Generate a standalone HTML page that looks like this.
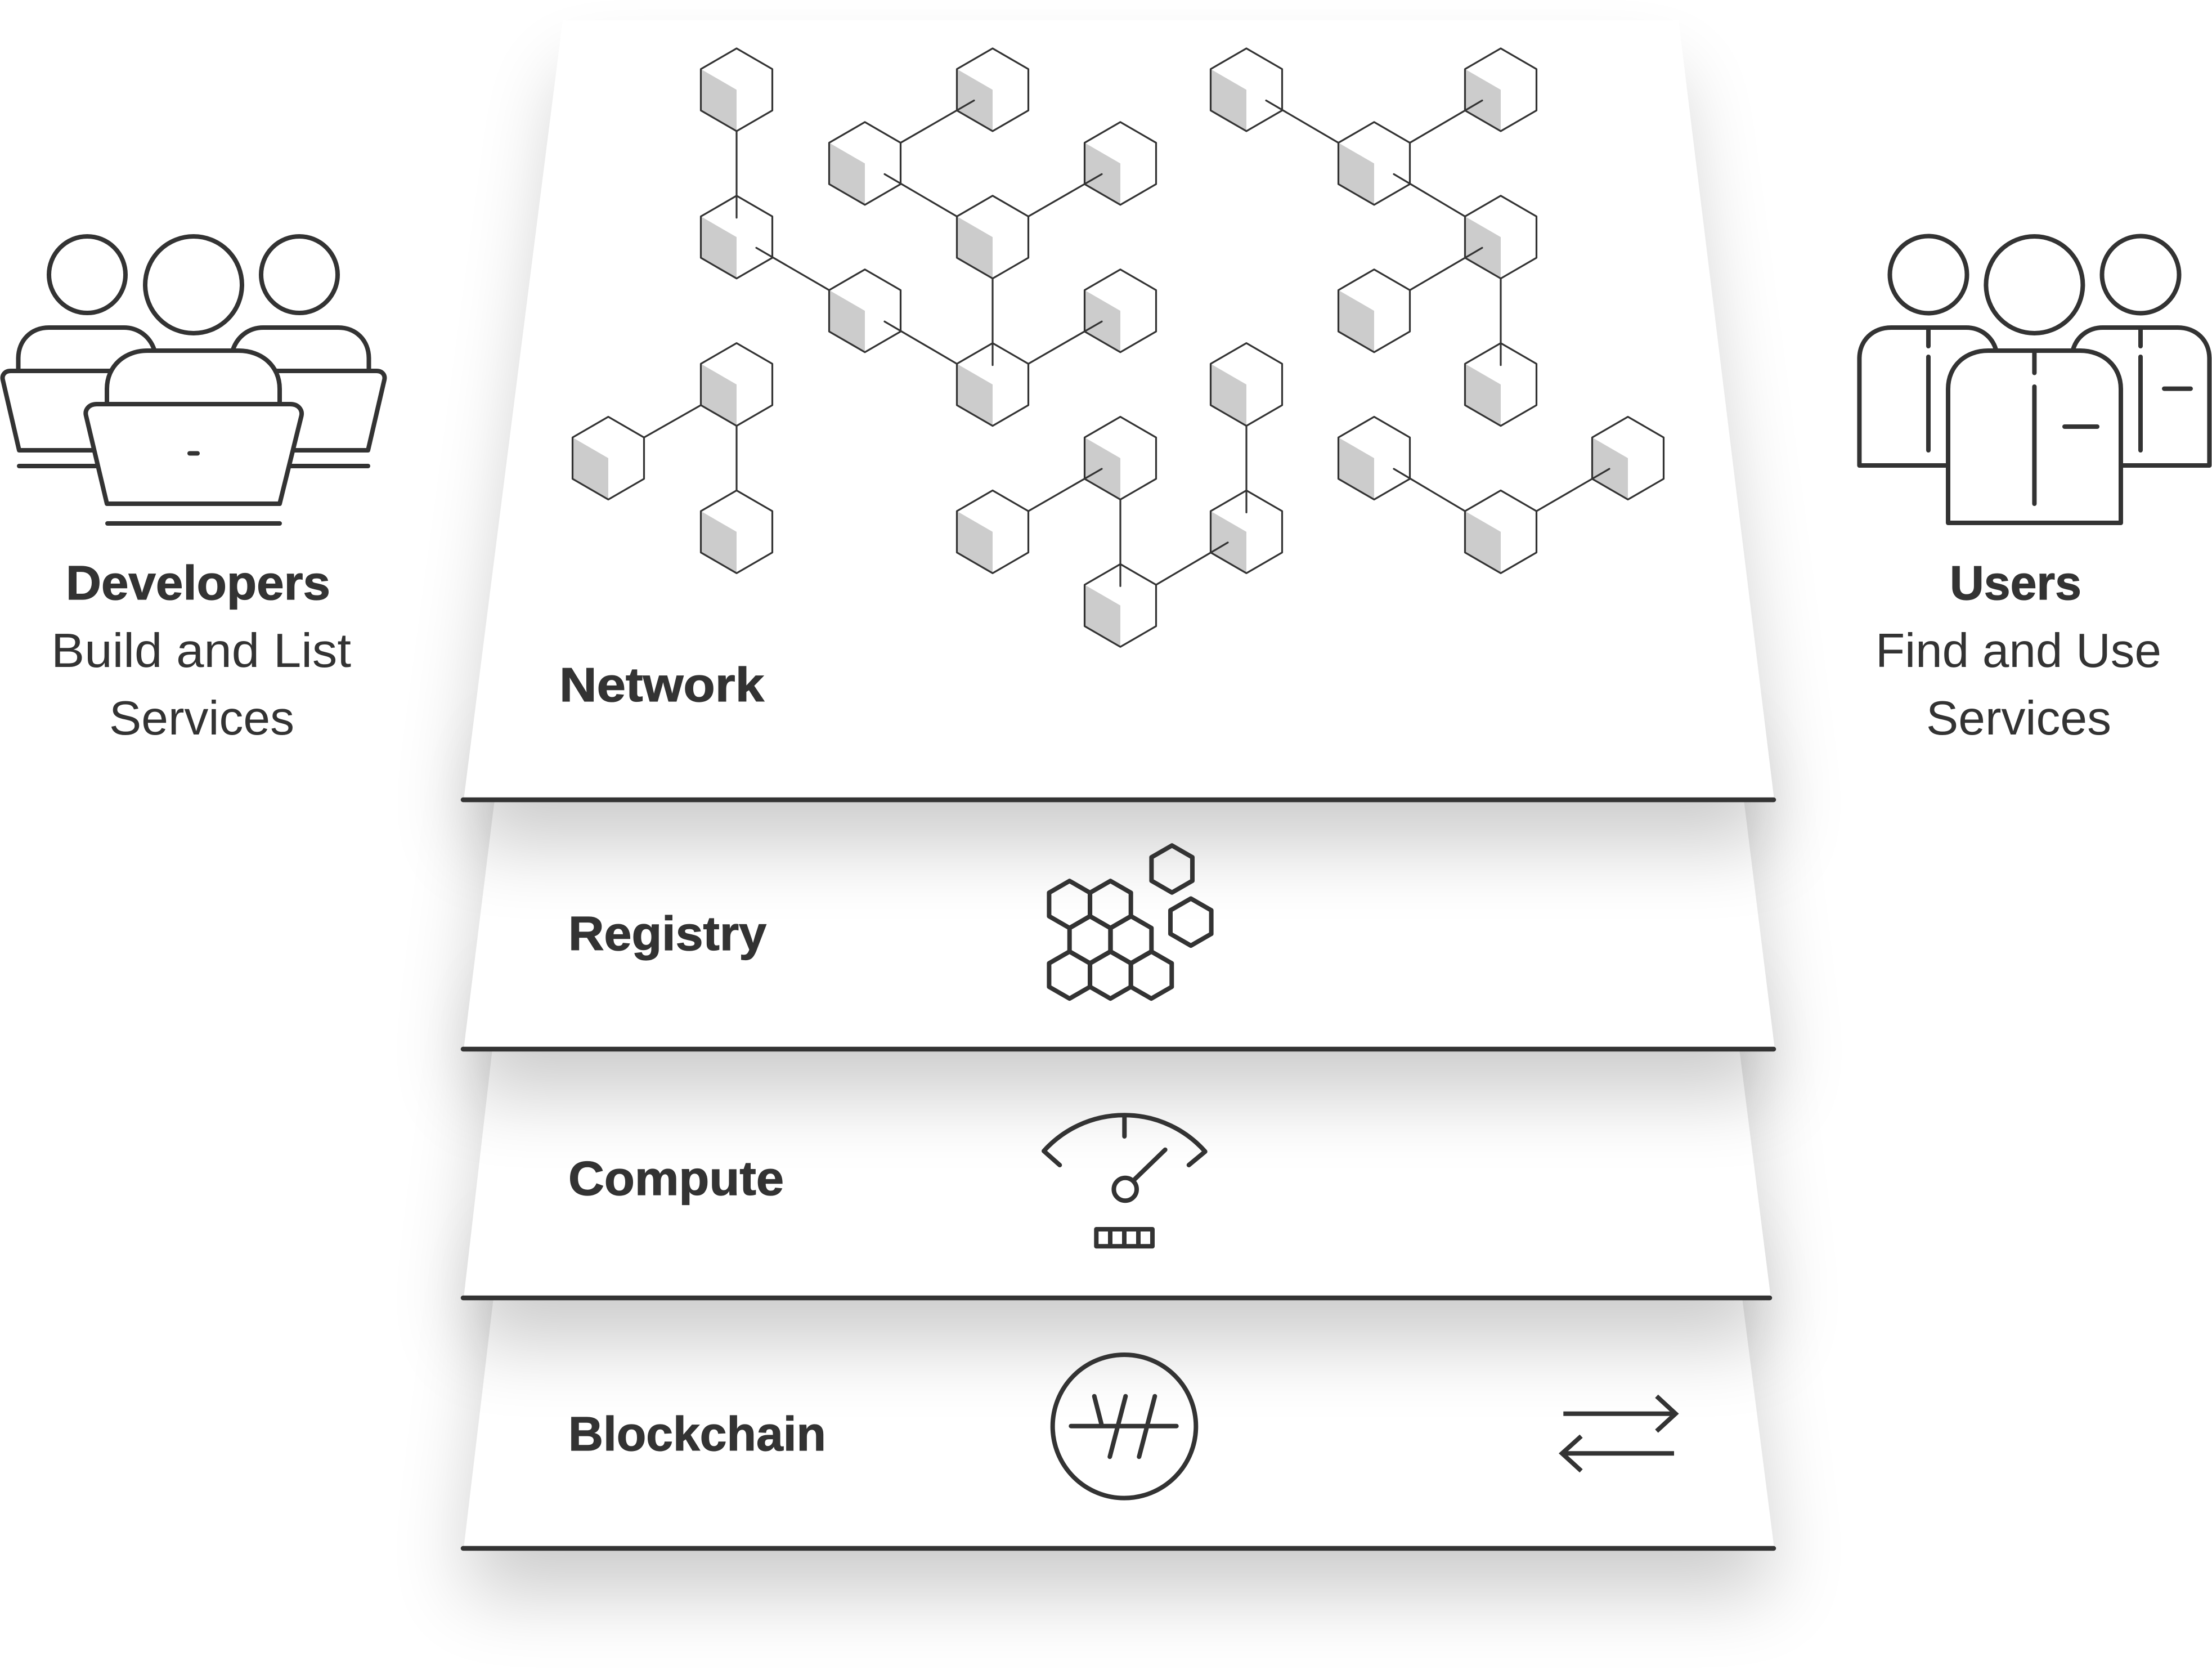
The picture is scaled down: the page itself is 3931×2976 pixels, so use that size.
<!DOCTYPE html>
<html lang="en">
<head>
<meta charset="utf-8">
<title>Network layers diagram</title>
<style>
html,body{margin:0;padding:0;background:#fff;width:3931px;height:2976px;overflow:hidden}
svg{display:block}
text{font-family:"Liberation Sans",sans-serif;fill:#333;font-size:85px}
.b{font-weight:700;stroke:#333;stroke-width:1.2}
</style>
</head>
<body>
<svg xmlns="http://www.w3.org/2000/svg" width="3931" height="2976" viewBox="0 0 3931 2976">
<defs>
<filter id="sh" filterUnits="userSpaceOnUse" x="0" y="0" width="3931" height="2976">
<feGaussianBlur stdDeviation="68"/>
</filter>
<g id="h">
<polygon points="0,-73.5 63.5,-36.75 63.5,36.75 0,73.5 -63.5,36.75 -63.5,-36.75" fill="#fff"/>
<polygon points="-63.5,-36.75 0,0 0,73.5 -63.5,36.75" fill="#ccc"/>
<polygon points="0,-73.5 63.5,-36.75 63.5,36.75 0,73.5 -63.5,36.75 -63.5,-36.75" fill="none" stroke="#333" stroke-width="3.2" stroke-linejoin="round"/>
</g>
<polygon id="r" points="0,-41.8 36.3,-20.9 36.3,20.9 0,41.8 -36.3,20.9 -36.3,-20.9" fill="none" stroke="#333" stroke-width="8" stroke-linejoin="round"/>
</defs>
<rect width="3931" height="2976" fill="#fff"/>

<!-- Blockchain panel -->
<polygon points="900,2200 3074,2200 3153,2831 824,2831" fill="#000" opacity=".2" filter="url(#sh)"/>
<polygon points="877,2306 3096,2306 3153,2751 824,2751" fill="#fff"/>
<!-- Compute panel -->
<polygon points="900,1760 3074,1760 3147,2386 824,2386" fill="#000" opacity=".2" filter="url(#sh)"/>
<polygon points="875,1864 3091,1864 3147,2306 824,2306" fill="#fff"/>
<!-- Registry panel -->
<polygon points="900,1320 3078,1320 3154,1944 824,1944" fill="#000" opacity=".2" filter="url(#sh)"/>
<polygon points="879,1421 3099,1421 3154,1864 824,1864" fill="#fff"/>
<!-- Network panel -->
<polygon points="1008,130 2972,130 3153,1501 824,1501" fill="#000" opacity=".2" filter="url(#sh)"/>
<polygon points="1000,36 2983,36 3153,1421 824,1421" fill="#fff"/>

<!-- Panel lines -->
<g stroke="#333" stroke-width="8.5" stroke-linecap="round">
<line x1="823" y1="1421" x2="3152" y2="1421"/>
<line x1="823" y1="1864" x2="3152" y2="1864"/>
<line x1="823" y1="2306" x2="3145" y2="2306"/>
<line x1="823" y1="2751" x2="3152" y2="2751"/>
</g>

<!-- Network hexagons -->
<use href="#h" x="1309" y="159.5"/><use href="#h" x="1764" y="159.5"/><use href="#h" x="2215" y="159.5"/><use href="#h" x="2667" y="159.5"/>
<use href="#h" x="1537" y="290.4"/><use href="#h" x="1991" y="290.4"/><use href="#h" x="2442" y="290.4"/>
<use href="#h" x="1309" y="421.3"/><use href="#h" x="1764" y="421.3"/><use href="#h" x="2667" y="421.3"/>
<use href="#h" x="1537" y="552.2"/><use href="#h" x="1991" y="552.2"/><use href="#h" x="2442" y="552.2"/>
<use href="#h" x="1309" y="683.1"/><use href="#h" x="1764" y="683.1"/><use href="#h" x="2215" y="683.1"/><use href="#h" x="2667" y="683.1"/>
<use href="#h" x="1081" y="814"/><use href="#h" x="1991" y="814"/><use href="#h" x="2442" y="814"/><use href="#h" x="2893" y="814"/>
<use href="#h" x="1309" y="944.9"/><use href="#h" x="1764" y="944.9"/><use href="#h" x="2215" y="944.9"/><use href="#h" x="2667" y="944.9"/>
<use href="#h" x="1991" y="1075.8"/>

<!-- Network links -->
<g stroke="#333" stroke-width="3.2" stroke-linecap="round" fill="none">
<line x1="1309" y1="233" x2="1309" y2="386.8"/>
<line x1="1344" y1="440.3" x2="1473.5" y2="515.45"/>
<line x1="1572" y1="571.2" x2="1700.5" y2="646.35"/>
<line x1="1764" y1="494.8" x2="1764" y2="648.6"/>
<line x1="1827.5" y1="384.55" x2="1958" y2="309.4"/>
<line x1="1827.5" y1="646.35" x2="1958" y2="571.2"/>
<line x1="1572" y1="309.4" x2="1700.5" y2="384.55"/>
<line x1="1600.5" y1="253.65" x2="1731" y2="178.5"/>
<line x1="2250" y1="178.5" x2="2378.5" y2="253.65"/>
<line x1="2505.5" y1="253.65" x2="2634" y2="178.5"/>
<line x1="2477" y1="309.4" x2="2603.5" y2="384.55"/>
<line x1="2505.5" y1="515.45" x2="2634" y2="440.3"/>
<line x1="2667" y1="494.8" x2="2667" y2="648.6"/>
<line x1="1144.5" y1="777.25" x2="1245.5" y2="719.85"/>
<line x1="1309" y1="756.6" x2="1309" y2="871.4"/>
<line x1="1827.5" y1="908.15" x2="1958" y2="833"/>
<line x1="1991" y1="887.5" x2="1991" y2="1041.3"/>
<line x1="2054.5" y1="1039.05" x2="2182" y2="963.9"/>
<line x1="2215" y1="756.6" x2="2215" y2="910.4"/>
<line x1="2477" y1="833" x2="2603.5" y2="908.15"/>
<line x1="2730.5" y1="908.15" x2="2860" y2="833"/>
</g>

<!-- Registry icon -->
<use href="#r" x="1900.7" y="1607"/><use href="#r" x="1973.4" y="1607"/>
<use href="#r" x="1937" y="1669.7"/><use href="#r" x="2010" y="1669.7"/>
<use href="#r" x="1900.7" y="1732.4"/><use href="#r" x="1973.4" y="1732.4"/><use href="#r" x="2046" y="1732.4"/>
<use href="#r" x="2082.7" y="1544"/><use href="#r" x="2116.3" y="1638.3"/>

<!-- Compute icon -->
<g stroke="#333" stroke-width="8" fill="none" stroke-linecap="round" stroke-linejoin="round">
<path d="M1883.3 2070 L1855 2045 A192 192 0 0 1 2141.7 2046 L2112.7 2070"/>
<line x1="1998.3" y1="1981.7" x2="1998.3" y2="2019"/>
<line x1="2070.7" y1="2042.7" x2="2016.7" y2="2095"/>
<circle cx="1999.7" cy="2113" r="20.3"/>
<rect x="1948.3" y="2184" width="99.7" height="30.3"/>
<line x1="1973" y1="2184" x2="1973" y2="2214"/>
<line x1="1998" y1="2184" x2="1998" y2="2214"/>
<line x1="2023" y1="2184" x2="2023" y2="2214"/>
</g>

<!-- Blockchain icon -->
<g stroke="#333" stroke-width="8" fill="none" stroke-linecap="round">
<circle cx="1998" cy="2534.3" r="127.3"/>
<line x1="1903.3" y1="2533.7" x2="2090.7" y2="2533.7"/>
<line x1="1944.7" y1="2480.7" x2="1957.3" y2="2530"/>
<line x1="2000.3" y1="2480.7" x2="1972.3" y2="2588.3"/>
<line x1="2052.3" y1="2480.7" x2="2024.3" y2="2588.3"/>
</g>
<g stroke="#333" stroke-width="8" fill="none" stroke-linejoin="miter">
<line x1="2778.3" y1="2511.7" x2="2976" y2="2511.7"/>
<polyline points="2944,2480.7 2977.7,2511.7 2944,2542.7"/>
<line x1="2975" y1="2582.3" x2="2778" y2="2582.3"/>
<polyline points="2810,2551.7 2776,2582.3 2810,2613.3"/>
</g>

<!-- Developers icon -->
<g stroke="#333" stroke-width="8" fill="#fff" stroke-linecap="round" stroke-linejoin="round">
<circle cx="155" cy="488" r="68"/>
<circle cx="344" cy="506" r="86"/>
<circle cx="532" cy="488" r="68"/>
<path d="M32.5 659 V637 C32.5 605 55 582 87 582 H220 C246 582 266 598 274 621"/>
<path d="M655.5 659 V637 C655.5 605 633 582 601 582 H468 C442 582 422 598 414 621"/>
<path d="M210 659 H19 C8 659 3 667 5 675 L34 800 H175" fill="#fff"/>
<path d="M478 659 H669 C680 659 685 667 683 675 L654 800 H513" fill="#fff"/>
<line x1="34" y1="828" x2="176" y2="828"/>
<line x1="512" y1="828" x2="654" y2="828"/>
<path d="M190 718 V691 C190 650 222 623 262 623 H424 C465 623 497 650 497 691 V718"/>
<path d="M172 718 H516 C530 718 538 728 535.6 739 L497 895 H190 L153 739 C150 728 158 718 172 718 Z"/>
<line x1="337" y1="805.5" x2="351" y2="805.5"/>
<line x1="191" y1="930" x2="497" y2="930"/>
</g>

<!-- Users icon -->
<g stroke="#333" stroke-width="8" fill="#fff" stroke-linecap="round" stroke-linejoin="round">
<circle cx="3427" cy="488" r="68.5"/>
<circle cx="3615.4" cy="506" r="86"/>
<circle cx="3804" cy="488" r="68.5"/>
<path d="M3470 827 H3304.4 V637 C3304.4 605 3328 582 3361 582 H3494 C3520 582 3540 598 3547 621"/>
<path d="M3760 827 H3926.4 V637 C3926.4 605 3903 582 3870 582 H3737 C3711 582 3691 598 3684 621"/>
<line x1="3427" y1="582" x2="3427" y2="615"/>
<line x1="3427" y1="634" x2="3427" y2="800"/>
<line x1="3804" y1="582" x2="3804" y2="615"/>
<line x1="3804" y1="634" x2="3804" y2="800"/>
<line x1="3846" y1="690.6" x2="3893" y2="690.6"/>
<path d="M3462 929 V691 C3462 650 3493 623 3533 623 H3696.5 C3737 623 3769 650 3769 691 V929 Z"/>
<line x1="3615.4" y1="623" x2="3615.4" y2="662.5"/>
<line x1="3615.4" y1="687" x2="3615.4" y2="895"/>
<line x1="3669" y1="758" x2="3727" y2="758"/>
</g>

<!-- Labels -->
<text class="b" x="117" y="1065" textLength="470" lengthAdjust="spacingAndGlyphs">Developers</text>
<text x="91" y="1185" textLength="533" lengthAdjust="spacingAndGlyphs">Build and List</text>
<text x="194" y="1305" textLength="329" lengthAdjust="spacingAndGlyphs">Services</text>
<text class="b" x="3465" y="1065" textLength="234" lengthAdjust="spacingAndGlyphs">Users</text>
<text x="3333" y="1185" textLength="508" lengthAdjust="spacingAndGlyphs">Find and Use</text>
<text x="3423" y="1305" textLength="329" lengthAdjust="spacingAndGlyphs">Services</text>
<text class="b" x="994" y="1246" textLength="364" lengthAdjust="spacingAndGlyphs">Network</text>
<text class="b" x="1010" y="1688" textLength="352" lengthAdjust="spacingAndGlyphs">Registry</text>
<text class="b" x="1010" y="2123" textLength="383" lengthAdjust="spacingAndGlyphs">Compute</text>
<text class="b" x="1010" y="2577" textLength="458" lengthAdjust="spacingAndGlyphs">Blockchain</text>
</svg>
</body>
</html>
